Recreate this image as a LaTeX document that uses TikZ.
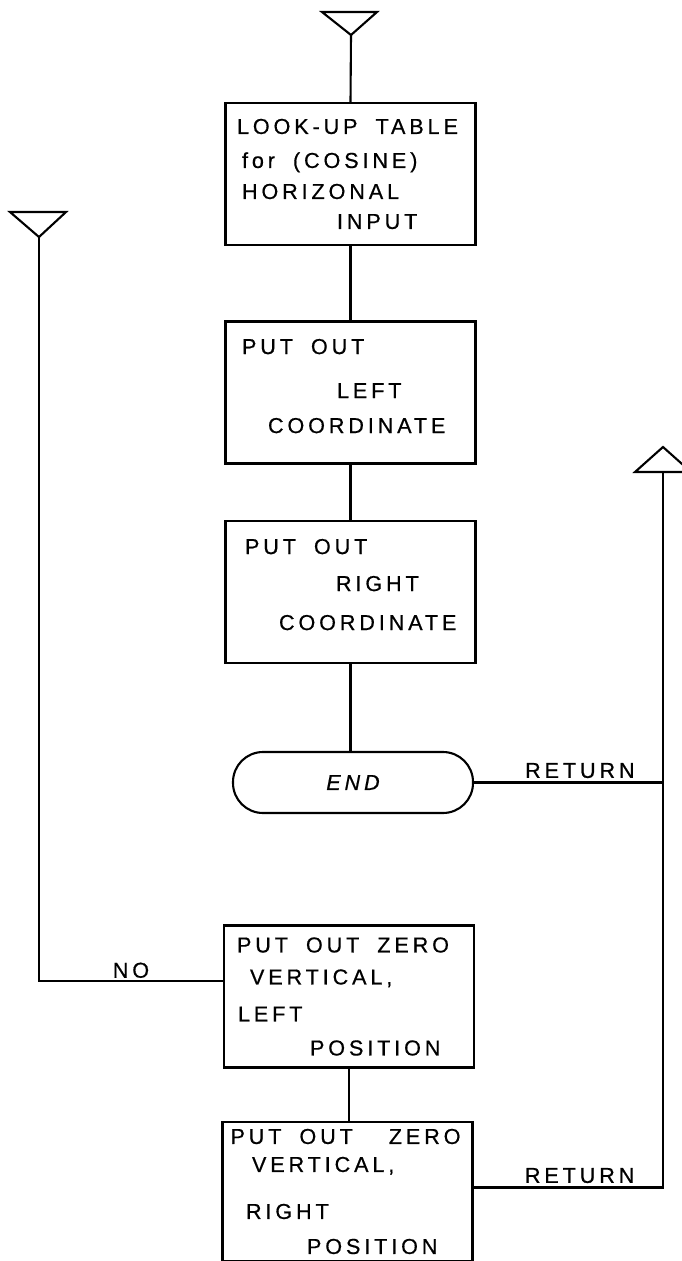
\documentclass[tikz,border=0pt]{standalone}
\usepackage{fontspec}
\newfontfamily\lettering[LetterSpace=18, FakeBold=0.6]{Liberation Sans}
\newcommand{\lsp}{\hspace{18pt}}
\usepackage{tikz}

\begin{document}
\begin{tikzpicture}[x=1pt, y=-1pt, line width=2.1pt, every node/.style = {font=\lettering\fontsize{21.6}{34}\selectfont},
    procbox/.style = {shape=rectangle, draw, minimum width=250pt, minimum height=142pt, text width=234pt, align=left, inner sep=0pt},
    endbox/.style = {shape=rectangle, rounded corners=30pt, draw, minimum width=240pt, minimum height=61pt}]
            \useasboundingbox (0,0) rectangle (682,1261);
            \draw (322,12) -- (377,12) -- (351,35) -- cycle;
            \draw (10,212) -- (66,212) -- (39,237) -- cycle;
            \draw (635,472) -- (691,472) -- (663,447) -- cycle;
            \coordinate (inTop) at (351,35);
            \coordinate (inLeft) at (39,237);
            \coordinate (outRight) at (663,472);
            \node[procbox] (lookup) at (350.5,174) {\hspace*{3.5pt}LOOK-UP\lsp TABLE\\ \hspace*{8.5pt}for\lsp(COSINE)\\[-3pt] \hspace*{8.5pt}HORIZONAL\\[-4pt] \hspace*{103.5pt}INPUT};
            \node[procbox] (leftco) at (350.5,392.5) {\hspace*{8.5pt}PUT\lsp OUT\\[10pt] \hspace*{103.5pt}LEFT\\[1pt] \hspace*{34.5pt}COORDINATE\\[-21pt]\mbox{}};
            \node[procbox] (rightco) at (350.5,592) {\hspace*{11.5pt}PUT\lsp OUT\\[3pt] \hspace*{102.5pt}RIGHT\\[5pt] \hspace*{45.5pt}COORDINATE\\[-19pt]\mbox{}};
            \node[endbox] (finish) at (353,782.5) {\itshape END};
            \node[procbox] (zeroL) at (349,996.5) {\hspace*{5pt}PUT\lsp OUT\lsp ZERO\\[-2pt] \hspace*{18pt}VERTICAL,\\[3pt] \hspace*{6pt}LEFT\\ \hspace*{78pt}POSITION};
            \node[procbox, minimum height=139pt] (zeroR) at (347.5,1191.5) {PUT\lsp OUT\lsp\lsp ZERO\\[-6pt] \hspace*{21.5pt}VERTICAL,\\[13pt] \hspace*{15.5pt}RIGHT\\[1pt] \hspace*{76.5pt}POSITION};
            \draw (inTop) -- (lookup.north);
            \draw (lookup) -- (leftco);
            \draw (leftco) -- (rightco);
            \draw (rightco.south) -- (rightco.south |- finish.north);
            \draw (finish) -- node[pos=0.56, above] {RETURN} (finish -| outRight);
            \draw (inLeft) |- node[near end, above, inner sep=2pt] {NO} ([yshift=15.5pt]zeroL.west);
            \draw (zeroL.south) -- (zeroL.south |- zeroR.north);
            \draw ([yshift=4pt]zeroR.east) -| node[pos=0.28, above] {RETURN} (outRight);
        \end{tikzpicture}
\end{document}
